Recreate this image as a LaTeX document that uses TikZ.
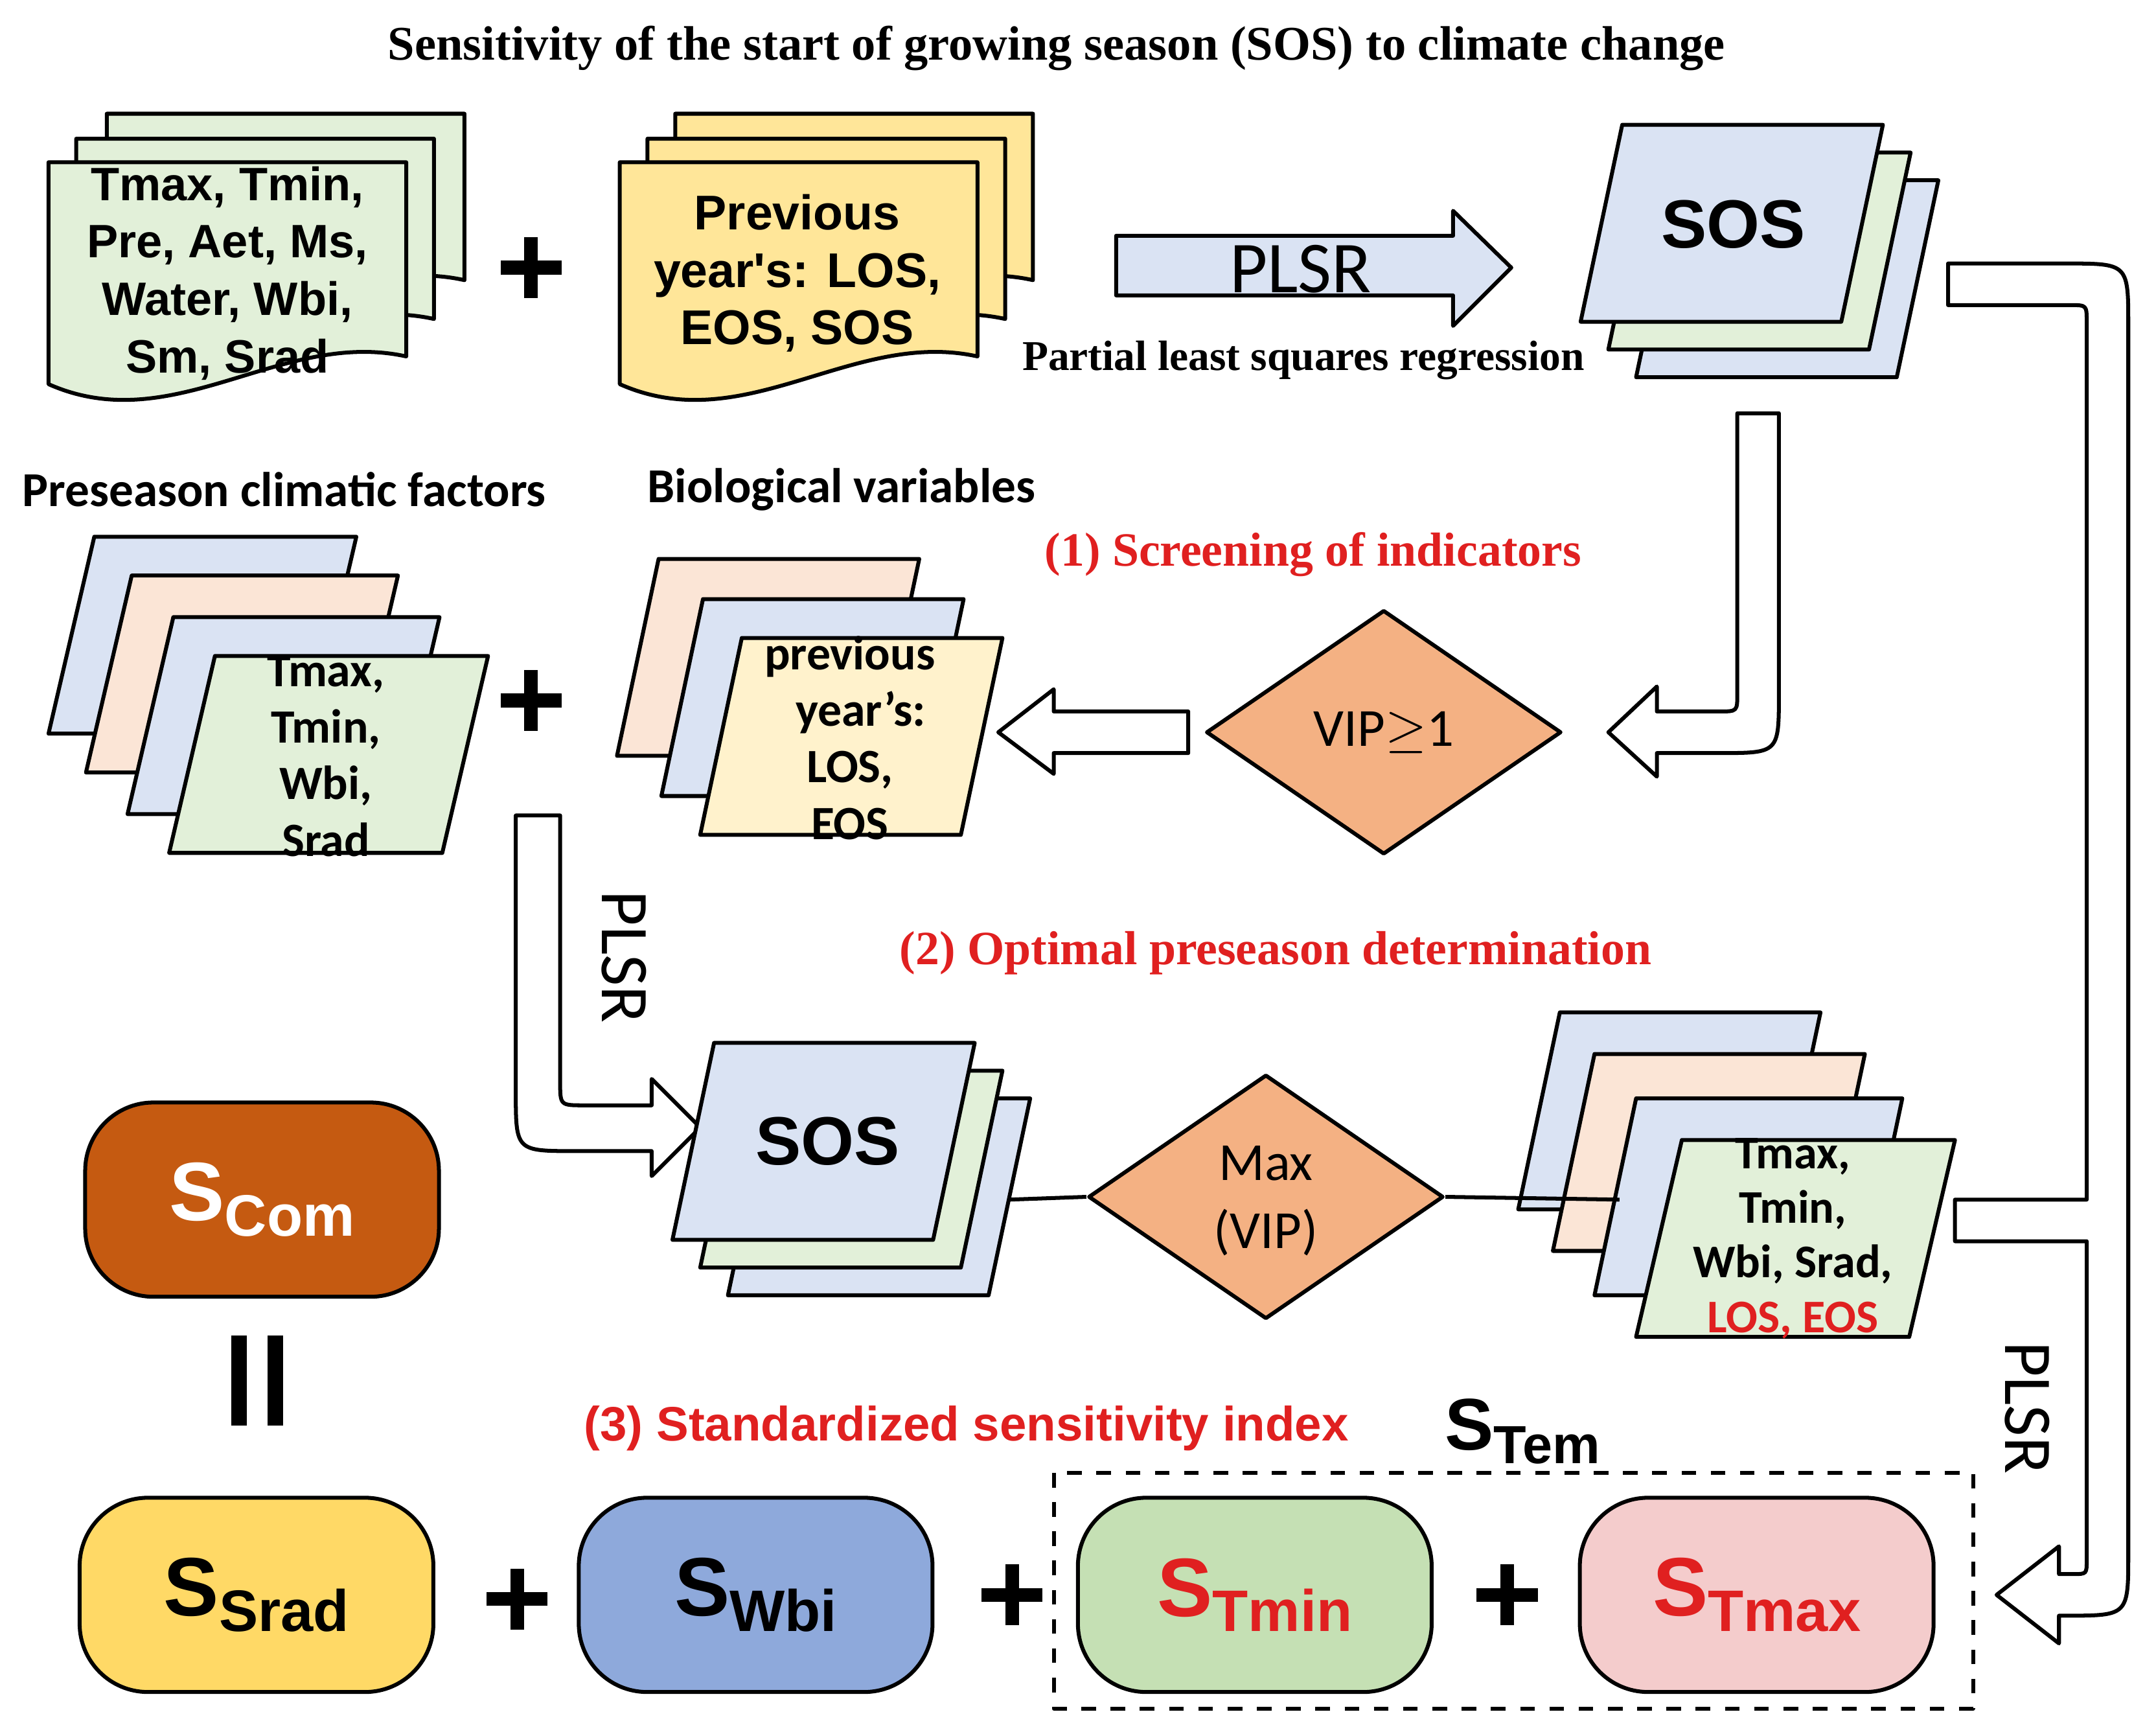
\documentclass[tikz,border=0pt]{standalone}
\usepackage{fontspec}
\setmainfont{Carlito}
\newfontfamily\arialf{Liberation Sans}
\newfontfamily\timesf{Liberation Serif}
\usetikzlibrary{shapes.geometric}
\definecolor{lblue}{HTML}{DAE3F3}
\definecolor{lgreen}{HTML}{E2F0D9}
\definecolor{lpeach}{HTML}{FBE5D6}
\definecolor{lyellow}{HTML}{FFE699}
\definecolor{pyellow}{HTML}{FFF2CC}
\definecolor{vorange}{HTML}{F4B183}
\definecolor{scom}{HTML}{C55A11}
\definecolor{ssrad}{HTML}{FFD966}
\definecolor{swbi}{HTML}{8EA9DB}
\definecolor{stmin}{HTML}{C5E0B4}
\definecolor{stmax}{HTML}{F4CCCC}
\definecolor{hred}{HTML}{E02020}
\tikzset{
  layer/.style={draw, thick, fill=#1},
  hollow/.style={draw, thick, fill=white},
  sbox/.style={draw, thick, rounded corners=14, fill=#1, minimum width=2.55cm, minimum height=1.4cm},
  vip/.style={diamond, draw, thick, fill=vorange, minimum width=2.56cm, minimum height=1.76cm,
    inner sep=0pt, aspect=1.45},
  heading/.style={font=\timesf\bfseries\fontsize{9.8}{11}\selectfont, text=hred},
}
% wavy document: x, y (top left), w, h, colour
\newcommand{\docshape}[5]{%
  \filldraw[layer=#5] (#1,#2) -- ({#1+#3},#2) -- ({#1+#3},{#2+#4-20})
    .. controls ({#1+0.65*#3},{#2+#4-40}) and ({#1+0.35*#3},{#2+#4+40}) .. (#1,{#2+#4}) -- cycle;}
% parallelogram: x, y (top left of box), w, h, skew, colour
\newcommand{\paral}[6]{%
  \filldraw[layer=#6] (#1,{#2+#4}) -- ({#1+#5},#2) -- ({#1+#3},#2) -- ({#1+#3-#5},{#2+#4}) -- cycle;}
% plus sign
\newcommand{\plussign}[2]{%
  \fill (#1-5,#2-22) rectangle (#1+5,#2+22);
  \fill (#1-22,#2-5) rectangle (#1+22,#2+5);}
\begin{document}
\begin{tikzpicture}[x=0.01cm, y=-0.01cm, line join=round]
  \useasboundingbox (0,0) rectangle (1555,1242);

  % Title
  \node (title) at (762,35) {\timesf\bfseries\fontsize{9.9}{12}\selectfont
    Sensitivity of the start of growing season (SOS) to climate change};

  % Input documents
  \docshape{77}{82}{258}{140}{lgreen}
  \docshape{55}{100}{258}{150}{lgreen}
  \docshape{35}{117}{258}{160}{lgreen}
  \node[align=center, font=\arialf\bfseries\fontsize{9.6}{11.8}\selectfont] (climin) at (164,197)
    {Tmax, Tmin,\\Pre, Aet, Ms,\\Water, Wbi,\\Sm, Srad};
  \plussign{383}{193}
  \docshape{487}{82}{258}{140}{lyellow}
  \docshape{467}{100}{258}{150}{lyellow}
  \docshape{447}{117}{258}{160}{lyellow}
  \node[align=center, font=\arialf\bfseries\fontsize{10}{11.8}\selectfont] (bioin) at (575,197)
    {Previous\\year's: LOS,\\EOS, SOS};

  % PLSR arrow
  \filldraw[layer=lblue] (805,170) -- (1048,170) -- (1048,152) -- (1090,193)
    -- (1048,235) -- (1048,213) -- (805,213) -- cycle;
  \node[font=\fontsize{15}{16}\selectfont] (plsr) at (938,194) {PLSR};
  \node[font=\timesf\bfseries\fontsize{8.7}{10}\selectfont] (plsrtxt) at (940,260)
    {Partial least squares regression};

  % SOS (top)
  \paral{1180}{130}{218}{142}{30}{lblue}
  \paral{1160}{110}{218}{142}{30}{lgreen}
  \paral{1140}{90}{218}{142}{30}{lblue}
  \node[font=\arialf\bfseries\fontsize{14}{16}\selectfont] (sostop) at (1250,162) {SOS};

  % Labels
  \node[font=\fontsize{10}{12}\selectfont\bfseries] (prelab) at (205,353) {Preseason climatic factors};
  \node[font=\fontsize{10}{12}\selectfont\bfseries] (biolab) at (607,353) {Biological variables};
  \node[heading] (h1) at (947,400) {(1) Screening of indicators};

  % Preseason climatic factors
  \paral{35}{387}{222}{142}{33}{lblue}
  \paral{62}{415}{225}{142}{33}{lpeach}
  \paral{92}{445}{225}{142}{33}{lblue}
  \paral{122}{473}{230}{142}{33}{lgreen}
  \node[align=center, font=\fontsize{9.8}{11.6}\selectfont\bfseries] (climf) at (235,545)
    {Tmax,\\Tmin,\\Wbi,\\Srad};
  \plussign{383}{505}

  % Biological variables
  \paral{445}{403}{218}{142}{30}{lpeach}
  \paral{477}{432}{218}{142}{30}{lblue}
  \paral{505}{460}{218}{142}{30}{pyellow}
  \node[align=center, font=\fontsize{9.8}{11.6}\selectfont\bfseries] (biof) at (613,532)
    {previous\\\ \ year's:\\LOS,\\EOS};

  % VIP diamond and arrows
  \node[vip] (vip1) at (998,528) {\fontsize{11}{13}\selectfont VIP$\geq$1};
  \filldraw[hollow] (857,513) -- (760,513) -- (760,497) -- (720,528) -- (760,558)
    -- (760,543) -- (857,543) -- cycle;
  \filldraw[hollow] (1253,298) -- (1283,298) -- (1283,500)
    .. controls (1283,543) .. (1240,543) -- (1195,543) -- (1195,560) -- (1160,528)
    -- (1195,495) -- (1195,513) -- (1240,513) .. controls (1253,513) .. (1253,500) -- cycle;

  % Long right arrow
  \filldraw[hollow] (1405,190) -- (1490,190) .. controls (1535,190) .. (1535,235)
    -- (1535,1120) .. controls (1535,1165) .. (1490,1165) -- (1485,1165) -- (1485,1185)
    -- (1440,1150) -- (1485,1115) -- (1485,1135) -- (1495,1135)
    .. controls (1505,1135) .. (1505,1125) -- (1505,895) -- (1410,895)
    -- (1410,865) -- (1505,865) -- (1505,232) .. controls (1505,220) .. (1493,220)
    -- (1405,220) -- cycle;
  \node[rotate=-90, font=\fontsize{14}{16}\selectfont] (plsrr) at (1462,1015) {PLSR};

  % PLSR down arrow
  \filldraw[hollow] (372,588) -- (404,588) -- (404,780) .. controls (404,797) .. (421,797)
    -- (470,797) -- (470,778) -- (505,813) -- (470,848) -- (470,830) -- (415,830)
    .. controls (372,830) .. (372,787) -- cycle;
  \node[rotate=-90, font=\fontsize{14}{16}\selectfont] (plsrd) at (450,690) {PLSR};
  \node[heading] (h2) at (920,687) {(2) Optimal preseason determination};

  % SOS (middle), Max(VIP), selected factors
  \paral{525}{792}{218}{142}{30}{lblue}
  \paral{505}{772}{218}{142}{30}{lgreen}
  \paral{485}{752}{218}{142}{30}{lblue}
  \node[font=\arialf\bfseries\fontsize{14}{16}\selectfont] (sosmid) at (597,823) {SOS};
  \node[vip] (vip2) at (913,863) {};
  \node[align=center, font=\fontsize{11}{14}\selectfont] (vip2t) at (913,866) {Max\\(VIP)};
  \paral{1095}{730}{218}{142}{30}{lblue}
  \paral{1120}{760}{225}{142}{30}{lpeach}
  \paral{1150}{792}{222}{142}{30}{lblue}
  \paral{1180}{822}{230}{142}{33}{lgreen}
  \node[align=center, font=\fontsize{9.6}{11.2}\selectfont\bfseries] (selec) at (1293,893)
    {Tmax,\\Tmin,\\Wbi, Srad,\\\textcolor{hred}{LOS, EOS}};
  \draw[thick] (728,865) -- (vip2.west);
  \draw[thick] (vip2.east) -- (1168,865);

  % Sensitivity index
  \node[sbox=scom] (scomb) at (189,865)
    {\arialf\bfseries\color{white}\fontsize{17}{20}\selectfont S\raisebox{-0.35ex}{\fontsize{12}{14}\selectfont Com}};
  \fill (167,963) rectangle (178,1028);
  \fill (193,963) rectangle (204,1028);
  \node[font=\arialf\bfseries\fontsize{9.9}{12}\selectfont, text=hred] (h3) at (697,1030)
    {(3) Standardized sensitivity index};
  \draw[thick, dashed] (760,1062) rectangle (1423,1232);
  \node (stem) at (1098,1032)
    {\arialf\bfseries\fontsize{15}{17}\selectfont S\raisebox{-0.35ex}{\fontsize{11}{13}\selectfont Tem}};
  \node[sbox=ssrad] (ssradb) at (185,1150)
    {\arialf\bfseries\fontsize{17}{20}\selectfont S\raisebox{-0.35ex}{\fontsize{12}{14}\selectfont Srad}};
  \node[sbox=swbi] (swbib) at (545,1150)
    {\arialf\bfseries\fontsize{17}{20}\selectfont S\raisebox{-0.35ex}{\fontsize{12}{14}\selectfont Wbi}};
  \node[sbox=stmin] (stminb) at (905,1150)
    {\arialf\bfseries\color{hred}\fontsize{17}{20}\selectfont S\raisebox{-0.35ex}{\fontsize{12}{14}\selectfont Tmin}};
  \node[sbox=stmax] (stmaxb) at (1267,1150)
    {\arialf\bfseries\color{hred}\fontsize{17}{20}\selectfont S\raisebox{-0.35ex}{\fontsize{12}{14}\selectfont Tmax}};
  \plussign{373}{1153}
  \plussign{730}{1150}
  \plussign{1087}{1150}
\end{tikzpicture}
\end{document}
